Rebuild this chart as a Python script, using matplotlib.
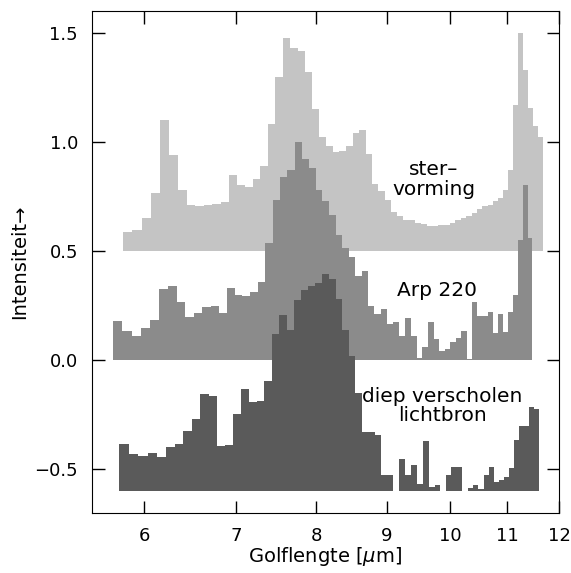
import numpy as np
import matplotlib
matplotlib.use('Agg')
import matplotlib.pyplot as plt
from matplotlib.ticker import FixedLocator, FixedFormatter, NullLocator

# wavelength grids (start, bin width in micron) and flux per bin
ster_start, ster_step = 5.790, 0.0935
ster = [0.588, 0.594, 0.650, 0.767, 1.099, 0.939, 0.778, 0.709, 0.705, 0.712,
        0.715, 0.723, 0.846, 0.801, 0.791, 0.828, 0.887, 1.082, 1.298, 1.476,
        1.428, 1.416, 1.321, 1.149, 1.024, 0.982, 0.954, 0.959, 0.982, 1.040,
        1.055, 0.945, 0.808, 0.776, 0.735, 0.677, 0.659, 0.644, 0.640, 0.629,
        0.625, 0.616, 0.614, 0.618, 0.621, 0.630, 0.640, 0.652, 0.660, 0.674,
        0.690, 0.705, 0.712, 0.727, 0.743, 0.780, 0.872, 1.169, 1.499, 1.329,
        1.154, 1.073, 1.024]

arp_start, arp_step = 5.695, 0.0918
arp = [0.177, 0.131, 0.110, 0.148, 0.183, 0.324, 0.341, 0.268, 0.196, 0.215,
       0.243, 0.248, 0.215, 0.329, 0.300, 0.294, 0.314, 0.360, 0.537, 0.735,
       0.839, 0.872, 0.998, 0.922, 0.880, 0.778, 0.727, 0.667, 0.575, 0.515,
       0.470, 0.385, 0.408, 0.248, 0.210, 0.233, 0.164, 0.175, 0.111, 0.195,
       0.111, 0.010, 0.058, 0.175, 0.096, 0.042, 0.050, 0.081, 0.100, 0.134,
       0.005, 0.266, 0.202, 0.202, 0.218, 0.126, 0.210, 0.130, 0.218, 0.300,
       0.550, 0.800, 0.560]

diep_start, diep_step = 5.757, 0.0928
diep = [-0.384, -0.429, -0.438, -0.426, -0.444, -0.400, -0.385, -0.327, -0.268, -0.155,
        -0.166, -0.396, -0.388, -0.248, -0.132, -0.190, -0.186, -0.097, 0.119, 0.205,
        0.138, 0.274, 0.321, 0.339, 0.352, 0.396, 0.373, 0.280, 0.140, 0.020,
        -0.150, -0.330, -0.330, -0.342, -0.528, -0.528, -0.600, -0.452, -0.528, -0.479,
        -0.566, -0.373, -0.581, -0.571, -0.600, -0.525, -0.490, -0.490, -0.600, -0.586,
        -0.574, -0.590, -0.525, -0.490, -0.558, -0.550, -0.536, -0.495, -0.368, -0.300,
        -0.300, -0.216, -0.224]

baselines = [0.5, 0.0, -0.6]
labels = ['ster–\nvorming', 'Arp 220', 'diep verscholen\nlichtbron']
xticks = [6, 7, 8, 9, 10, 11, 12]
yticks = [-0.5, 0.0, 0.5, 1.0, 1.5]

plt.rcParams['font.family'] = 'DejaVu Sans'
plt.rcParams['font.size'] = 13

fig = plt.figure(figsize=(5.71, 5.73), dpi=100)
ax = fig.add_axes([0.161, 0.105, 0.818, 0.876])

spectra = [(ster_start, ster_step, ster), (arp_start, arp_step, arp),
           (diep_start, diep_step, diep)]
colors = ['#c4c4c4', '#8b8b8b', '#5a5a5a']
for (start, step, vals), base, col in zip(spectra, baselines, colors):
    edges = start + step * np.arange(len(vals) + 1)
    ax.stairs(vals, edges, baseline=base, fill=True, color=col, linewidth=0)

ax.text(9.74, 0.826, labels[0], ha='center', va='center', fontsize=14.5, linespacing=1.05)
ax.text(9.79, 0.317, labels[1], ha='center', va='center', fontsize=14.5)
ax.text(9.88, -0.21, labels[2], ha='center', va='center', fontsize=14.5, linespacing=1.05)

ax.set_xscale('log')
ax.set_xlim(5.5, 12)
ax.set_ylim(-0.7, 1.6)
ax.xaxis.set_major_locator(FixedLocator(xticks))
ax.xaxis.set_major_formatter(FixedFormatter([str(t) for t in xticks]))
ax.xaxis.set_minor_locator(NullLocator())
ax.set_yticks(yticks)
ax.set_yticklabels(['−0.5', '0.0', '0.5', '1.0', '1.5'])
ax.tick_params(direction='in', length=9, width=1, top=True, right=True, pad=10)

ax.set_xlabel('Golflengte [$\\mu$m]', fontsize=14, labelpad=0)
ax.set_ylabel('Intensiteit→', fontsize=14, labelpad=4)

fig.savefig('out.png', dpi=100)
